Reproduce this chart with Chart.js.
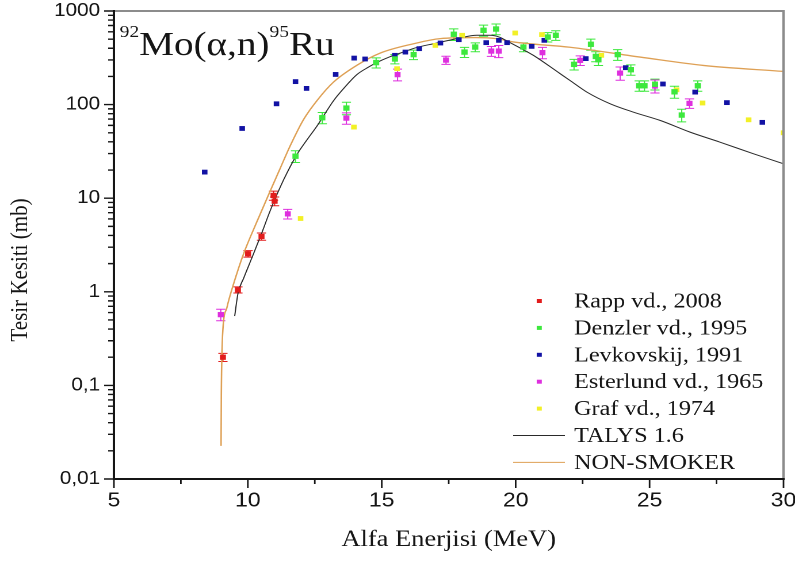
<!DOCTYPE html>
<html>
<head>
<meta charset="utf-8">
<script src="https://cdn.jsdelivr.net/npm/chart.js@4.4.0/dist/chart.umd.min.js"></script>
<style>
  html, body { margin: 0; padding: 0; background: #fff; }
</style>
</head>
<body>
<!-- canvas is drawn 691 wide and shown 795 wide (figure is slightly stretched sideways) -->
<canvas id="chart" width="691" height="562" style="width:795px;height:562px"></canvas>
<script>
// Alpha energy (MeV) and cross section (mb) for each data set
const rappE = [9.07, 9.63, 10.01, 10.51, 10.96, 11.0];
const rappS = [0.2, 1.05, 2.55, 3.9, 10.7, 9.3];
const rappErr = [0.02, 0.08, 0.2, 0.35, 1.2, 1.0];

const denzlerE = [11.78, 12.78, 13.68, 14.79, 15.49, 16.19, 17.69, 18.09, 18.49, 18.8, 19.27, 20.29, 21.2,
  21.5, 22.18, 22.81, 22.99, 23.09, 23.81, 24.3, 24.61, 24.81, 25.2, 25.93, 26.2, 26.8];
const denzlerS = [28.1, 72.4, 91.8, 281, 307, 342, 564, 364, 412, 622, 642, 412, 527,
  550, 269, 441, 327, 302, 342, 236, 159, 159, 165, 137, 77.3, 159];
const denzlerErr = [4, 10, 14, 35, 35, 40, 80, 45, 45, 85, 85, 45, 60,
  65, 35, 60, 40, 40, 45, 30, 20, 20, 22, 20, 12, 20];

const levkovskijE = [8.39, 9.79, 11.07, 11.78, 12.19, 13.28, 13.97, 14.38, 15.49, 15.88, 16.4, 17.19,
  17.88, 18.9, 19.37, 19.68, 20.6, 21.07, 22.62, 24.11, 25.5, 26.7, 27.89, 29.21];
const levkovskijS = [19.0, 55.6, 102, 176, 149, 210, 314, 307, 336, 364, 396, 455,
  494, 459, 486, 459, 419, 486, 310, 248, 166, 136, 105, 64.6];

const esterlundE = [8.99, 11.49, 13.68, 15.59, 17.4, 19.09, 19.37, 21.0, 22.41, 23.9, 25.2, 26.49];
const esterlundS = [0.57, 6.8, 71.7, 209, 299, 373, 373, 359, 297, 217, 158, 103];
const esterlundErr = [0.08, 0.8, 10, 30, 30, 45, 55, 50, 35, 35, 25, 12];

const grafE = [11.97, 13.96, 15.57, 17.0, 18.0, 19.98, 20.98, 23.2, 26.01, 26.98, 28.7, 30.0];
const grafS = [6.07, 57.5, 242, 429, 550, 582, 560, 336, 144, 104, 68.8, 50];

// model calculations
const talysE = [9.51, 9.63, 9.85, 10.16, 10.51, 10.84, 11.34, 11.84, 12.2, 12.58, 13.2, 13.6, 14.07, 14.5,
  14.82, 15.3, 15.69, 16.3, 16.93, 17.81, 18.55, 19.05, 19.4, 19.67, 20.2, 20.66, 21.66, 22.03, 22.66,
  23.53, 24.4, 25.39, 26.51, 27.63, 28.87, 30.0];
const talysS = [0.55, 0.955, 1.41, 2.34, 4.17, 7.41, 15.8, 29.5, 41.7, 58.9, 110, 151, 209, 251,
  282, 324, 355, 407, 447, 507, 550, 550, 525, 479, 398, 336, 214, 181, 136,
  102, 83, 67.8, 50.8, 39.7, 29.9, 23.3];

const nonSmokerE = [9.0, 9.01, 9.03, 9.07, 9.22, 9.47, 9.84, 10.34, 10.84, 11.21, 11.6, 12.08, 12.6, 13.2,
  14.07, 14.94, 16.19, 17.18, 18.5, 19.3, 19.91, 22.03, 24.77, 27.01, 30.0];
const nonSmokerS = [0.0226, 0.078, 0.2, 0.4, 0.68, 1.22, 2.54, 5.62, 12.0, 20.9, 37.2, 69.2, 112, 174,
  263, 355, 447, 507, 520, 505, 467, 410, 318, 262, 226];

const seriesLabels = ['Rapp vd., 2008', 'Denzler vd., 1995', 'Levkovskij, 1991', 'Esterlund vd., 1965',
  'Graf vd., 1974', 'TALYS 1.6', 'NON-SMOKER'];
const seriesColors = ['#e21c1c', '#3de83d', '#1212a4', '#de2fde', '#f2f026', '#2a2a2a', '#dea055'];

const xTicks = [5, 10, 15, 20, 25, 30];
const xMinorTicks = [7.5, 12.5, 17.5, 22.5, 27.5];
const yTicks = [0.01, 0.1, 1, 10, 100, 1000];
const yTickLabels = ['0,01', '0,1', '1', '10', '100', '1000'];

const SERIF = '"Liberation Serif", "Times New Roman", serif';
const SANS = '"Liberation Sans", Arial, sans-serif';

const toPoints = (xs, ys) => xs.map((x, i) => ({ x: x, y: ys[i] }));

function pointSet(idx, xs, ys, errs, radius) {
    return {
        label: seriesLabels[idx],
        data: toPoints(xs, ys),
        errors: errs,
        showLine: false,
        pointStyle: 'rect',
        pointRadius: radius,
        pointBackgroundColor: seriesColors[idx],
        pointBorderWidth: 0,
        borderColor: seriesColors[idx],
        backgroundColor: seriesColors[idx],
    };
}

function lineSet(idx, xs, ys, width) {
    return {
        label: seriesLabels[idx],
        data: toPoints(xs, ys),
        showLine: true,
        pointRadius: 0,
        borderColor: seriesColors[idx],
        borderWidth: width,
        cubicInterpolationMode: 'monotone',
    };
}

// vertical error bars with small caps
const errorBars = {
    id: 'errorBars',
    beforeDatasetsDraw(chart) {
        const { ctx, scales: { y } } = chart;
        ctx.save();
        chart.data.datasets.forEach((ds, i) => {
            if (!ds.errors) return;
            const meta = chart.getDatasetMeta(i);
            ctx.strokeStyle = ds.borderColor;
            ctx.lineWidth = 1;
            meta.data.forEach((pt, j) => {
                const v = ds.data[j].y, e = ds.errors[j];
                const top = y.getPixelForValue(v + e);
                const bot = y.getPixelForValue(v - e);
                ctx.beginPath();
                ctx.moveTo(pt.x, top); ctx.lineTo(pt.x, bot);
                ctx.moveTo(pt.x - 4, top); ctx.lineTo(pt.x + 4, top);
                ctx.moveTo(pt.x - 4, bot); ctx.lineTo(pt.x + 4, bot);
                ctx.stroke();
            });
        });
        ctx.restore();
    }
};

// frame, tick marks, axis titles, reaction label and legend
const decorations = {
    id: 'decorations',
    afterDraw(chart) {
        const { ctx, chartArea: a, scales: { x, y } } = chart;
        ctx.save();

        ctx.strokeStyle = '#8c8c8c';
        ctx.lineWidth = 2;
        ctx.beginPath();
        ctx.moveTo(a.left, a.top); ctx.lineTo(a.right, a.top); ctx.lineTo(a.right, a.bottom);
        ctx.stroke();

        ctx.strokeStyle = '#151515';
        ctx.beginPath();
        ctx.moveTo(a.left, a.top - 1); ctx.lineTo(a.left, a.bottom); ctx.lineTo(a.right + 1, a.bottom);
        ctx.stroke();

        ctx.lineWidth = 1.4;
        ctx.beginPath();
        xTicks.forEach(v => {
            const px = x.getPixelForValue(v);
            ctx.moveTo(px, a.bottom); ctx.lineTo(px, a.bottom + 9);
        });
        xMinorTicks.forEach(v => {
            const px = x.getPixelForValue(v);
            ctx.moveTo(px, a.bottom); ctx.lineTo(px, a.bottom + 5);
        });
        yTicks.forEach(d => {
            const py = y.getPixelForValue(d);
            ctx.moveTo(a.left, py); ctx.lineTo(a.left - 8.5, py);
            if (d >= 1000) return;
            for (let k = 2; k <= 9; k++) {
                const pm = y.getPixelForValue(d * k);
                ctx.moveTo(a.left, pm); ctx.lineTo(a.left - 5, pm);
            }
        });
        ctx.stroke();

        // axis titles
        ctx.fillStyle = '#151515';
        ctx.textAlign = 'center';
        ctx.textBaseline = 'middle';
        ctx.font = '23px ' + SERIF;
        ctx.fillText('Alfa Enerjisi (MeV)', (a.left + a.right) / 2, 540);
        ctx.save();
        ctx.translate(18, 270);
        ctx.rotate(-Math.PI / 2);
        ctx.font = '21px ' + SERIF;
        ctx.fillText('Tesir Kesiti (mb)', 0, 0);
        ctx.restore();

        // reaction label 92Mo(α,n)95Ru
        ctx.textAlign = 'left';
        ctx.textBaseline = 'alphabetic';
        let px = 104;
        [['92', 17, 37], ['Mo(\u03b1,n)', 34, 55], ['95', 17, 37], ['Ru', 34, 55]].forEach(([t, size, base]) => {
            ctx.font = size + 'px ' + SERIF;
            ctx.fillText(t, px, base);
            px += ctx.measureText(t).width;
        });

        // legend
        ctx.font = '21px ' + SERIF;
        ctx.textBaseline = 'middle';
        chart.data.datasets.forEach((ds, i) => {
            const ry = 301 + i * 26.9;
            if (ds.showLine) {
                ctx.strokeStyle = ds.borderColor;
                ctx.lineWidth = 1;
                ctx.beginPath();
                ctx.moveTo(446, ry); ctx.lineTo(491, ry);
                ctx.stroke();
            } else {
                ctx.fillStyle = ds.backgroundColor;
                ctx.fillRect(466.5, ry - 2, 4.4, 4);
            }
            ctx.fillStyle = '#151515';
            ctx.fillText(ds.label, 499, ry + 1);
        });
        ctx.restore();
    }
};

new Chart(document.getElementById('chart'), {
    type: 'scatter',
    data: {
        datasets: [
            pointSet(0, rappE, rappS, rappErr, 3.7),
            pointSet(1, denzlerE, denzlerS, denzlerErr, 3.8),
            pointSet(2, levkovskijE, levkovskijS, null, 3.4),
            pointSet(3, esterlundE, esterlundS, esterlundErr, 3.7),
            pointSet(4, grafE, grafS, null, 3.4),
            lineSet(5, talysE, talysS, 1),
            lineSet(6, nonSmokerE, nonSmokerS, 1.3),
        ]
    },
    options: {
        responsive: false,
        devicePixelRatio: 2,
        animation: false,
        events: [],
        layout: { padding: { top: 11, right: 10, left: 0, bottom: 0 } },
        plugins: { legend: { display: false }, tooltip: { enabled: false } },
        scales: {
            x: {
                type: 'linear',
                min: 5,
                max: 30,
                grid: { display: false, drawTicks: false },
                border: { display: false },
                afterBuildTicks: s => { s.ticks = xTicks.map(v => ({ value: v })); },
                afterFit: s => {
                    s.height = 83;
                    s.paddingLeft = 0; s.paddingRight = 0;
                },
                ticks: {
                    padding: 10,
                    maxRotation: 0,
                    autoSkip: false,
                    color: '#151515',
                    font: { family: SANS, size: 20 },
                },
            },
            y: {
                type: 'logarithmic',
                min: 0.01,
                max: 1000,
                grid: { display: false, drawTicks: false },
                border: { display: false },
                afterBuildTicks: s => { s.ticks = yTicks.map(v => ({ value: v })); },
                afterFit: s => {
                    s.width = 99;
                    s.paddingTop = 0; s.paddingBottom = 0;
                },
                ticks: {
                    padding: 12,
                    autoSkip: false,
                    color: '#151515',
                    font: { family: SANS, size: 18 },
                    callback: (v, i) => yTickLabels[i],
                },
            },
        },
    },
    plugins: [errorBars, decorations],
});
</script>
</body>
</html>
